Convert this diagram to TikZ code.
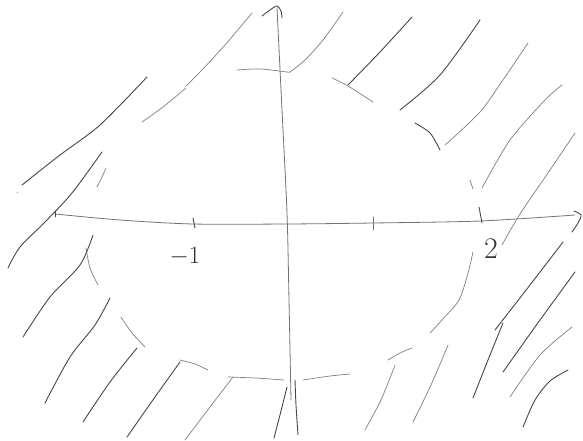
\documentclass[tikz,border=0pt]{standalone}
\begin{document}
\begin{tikzpicture}[x=1pt,y=-1pt,
  pen/.style={line width=0.9pt,color=black!72,line cap=round,line join=round},
  faint/.style={line width=0.7pt,color=black!50,line cap=round,line join=round},
  axis/.style={line width=0.8pt,color=black!55,line cap=round,line join=round},
  lbl/.style={inner sep=0pt,text=black!80,font=\fontsize{30}{30}\selectfont}]
\useasboundingbox (0,0) rectangle (583,441);
\fill[white] (0,0) rectangle (583,441);
% axes
\draw[axis] plot[smooth] coordinates {(55,214) (120,220) (193,224) (287,224) (373,223) (480,221) (575,215)};
\draw[axis] plot[smooth] coordinates {(277,8) (282,110) (287,213) (289,300) (291,400)};
% arrow heads
\draw[pen] plot[smooth] coordinates {(262,16) (270,10) (277,6) (281,11) (282,18)};
\draw[pen] plot[smooth] coordinates {(574,211) (581,215) (578,223) (572,232)};
% ticks
\draw[pen] (55,211) -- (55,217);
\draw[pen] (193,218) -- (195,228);
\draw[axis] (373,217) -- (373,230);
\draw[pen] (479,207) -- (482,223);
% labels
\node[lbl] (m1) at (185,257) {$-1$};
\node[lbl] (two) at (491,249) {2};
% circle arcs
\draw[faint] plot[smooth] coordinates {(237,70) (260,69) (287,72) (290,72)};
\draw[faint] plot[smooth] coordinates {(142,122) (163,107) (186,88)};
\draw[faint] plot[smooth] coordinates {(97,187) (102,177) (106,168)};
\draw[faint] plot[smooth] coordinates {(86,248) (90,268) (98,285)};
\draw[faint] plot[smooth] coordinates {(121,317) (132,333) (145,347)};
\draw[faint] plot[smooth] coordinates {(180,360) (195,364) (208,370)};
\draw[faint] plot[smooth] coordinates {(228,377) (255,378) (284,380)};
\draw[faint] plot[smooth] coordinates {(303,380) (330,376) (350,374)};
\draw[faint] plot[smooth] coordinates {(388,360) (400,353) (412,348)};
\draw[faint] plot[smooth] coordinates {(430,333) (442,320) (459,300) (468,273) (473,252)};
\draw[faint] (470,180) -- (473,189);
\draw[pen] plot[smooth] coordinates {(415,123) (430,133) (440,150)};
\draw[faint] plot[smooth] coordinates {(332,78) (348,86) (373,102)};
% hatching
\draw[pen] plot[smooth] coordinates {(22,185) (60,155) (100,125) (147,77)};
\draw[faint] (17,192) -- (18,193);
\draw[faint] plot[smooth] coordinates {(186,86) (200,72) (225,45) (252,13)};
\draw[faint] plot[smooth] coordinates {(290,72) (305,60) (323,40) (343,12)};
\draw[pen] plot[smooth] coordinates {(348,85) (380,52) (412,17)};
\draw[pen] plot[smooth] coordinates {(400,110) (440,75) (480,20)};
\draw[faint] plot[smooth] coordinates {(445,145) (480,112) (505,77) (528,43)};
\draw[faint] plot[smooth] coordinates {(482,188) (510,140) (545,100) (562,85)};
\draw[faint] plot[smooth] coordinates {(502,245) (520,214) (550,170) (575,133)};
\draw[pen] plot[smooth] coordinates {(102,152) (72,193) (45,222) (20,247) (8,268)};
\draw[pen] plot[smooth] coordinates {(23,337) (50,297) (80,265) (93,235)};
\draw[pen] plot[smooth] coordinates {(45,403) (70,357) (95,325) (110,298)};
\draw[pen] plot[smooth] coordinates {(83,422) (110,382) (137,348)};
\draw[pen] plot[smooth] coordinates {(127,437) (155,397) (180,362)};
\draw[faint] plot[smooth] coordinates {(185,440) (210,407) (233,377)};
\draw[pen] plot[smooth] coordinates {(274,438) (281,411) (287,387)};
\draw[pen] plot[smooth] coordinates {(298,435) (296,405) (295,380)};
\draw[faint] plot[smooth] coordinates {(365,430) (380,402) (390,378) (395,365)};
\draw[faint] plot[smooth] coordinates {(413,422) (431,385) (448,345)};
\draw[pen] plot[smooth] coordinates {(473,398) (488,360) (503,323)};
\draw[pen] plot[smooth] coordinates {(495,330) (530,285) (563,242)};
\draw[pen] plot[smooth] coordinates {(503,372) (540,320) (575,272)};
\draw[faint] plot[smooth] coordinates {(510,397) (540,355) (572,327)};
\draw[pen] plot[smooth] coordinates {(523,427) (535,400) (550,381) (568,370)};
\end{tikzpicture}
\end{document}
